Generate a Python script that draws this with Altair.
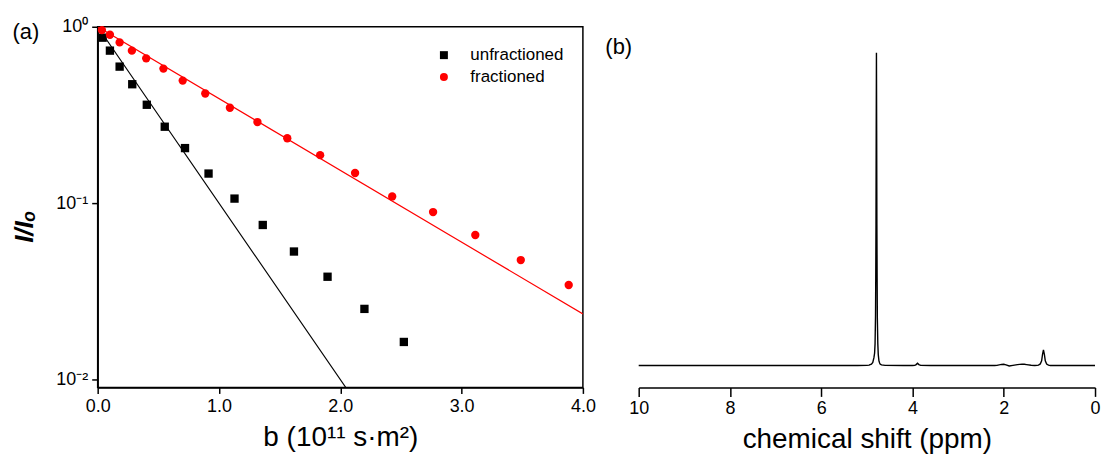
import altair as alt
import pandas as pd

# ---- panel (a): diffusion attenuation ----
series_names = ["unfractioned", "fractioned"]

b_unfrac = [0.041, 0.101, 0.181, 0.285, 0.405, 0.553, 0.720, 0.914, 1.128,
            1.361, 1.618, 1.895, 2.199, 2.524]
i_unfrac = [0.867, 0.732, 0.594, 0.472, 0.361, 0.271, 0.205, 0.147, 0.106,
            0.0751, 0.0531, 0.0382, 0.0251, 0.0163]

b_frac = [0.035, 0.101, 0.181, 0.282, 0.400, 0.542, 0.701, 0.887, 1.090,
          1.317, 1.563, 1.834, 2.122, 2.428, 2.765, 3.113, 3.488, 3.883]
i_frac = [0.957, 0.901, 0.815, 0.732, 0.662, 0.579, 0.495, 0.418, 0.347,
          0.288, 0.233, 0.187, 0.148, 0.109, 0.0889, 0.0659, 0.0475, 0.0343]

fit_unfrac_b = [0.0, 2.05]
fit_unfrac_i = [1.0, 0.0089]
fit_frac_b = [0.0, 4.0]
fit_frac_i = [1.0, 0.0235]

# ---- panel (b): 1H NMR spectrum ----
ppm = [10.0, 6.0, 5.2, 5.0, 4.95, 4.93, 4.90, 4.87, 4.845, 4.83, 4.82, 4.81,
       4.805, 4.80, 4.795, 4.79, 4.785, 4.78, 4.775, 4.77, 4.76, 4.75, 4.735,
       4.72, 4.71, 4.68, 4.6, 4.2,
       4.0, 3.95, 3.92, 3.89, 3.86, 3.82, 3.6, 2.4, 2.2, 2.15, 2.05, 2.0,
       1.95, 1.88, 1.8, 1.7, 1.6, 1.55, 1.5, 1.4, 1.32, 1.27, 1.24, 1.20,
       1.17, 1.15, 1.13, 1.11, 1.09, 1.06, 1.02, 0.98, 0.9, 0.5, 0.0]
intensity = [0.0, 0.0, 0.0, 0.05, 0.12, 0.3, 0.45, 1.0, 2.5, 4.0, 7.0, 16.0,
             28.0, 45.0, 75.0, 100.0, 75.0, 45.0, 28.0, 15.0, 7.0, 3.5, 1.5,
             0.8, 0.5, 0.2, 0.05, 0.0,
             0.0, 0.05, 0.3, 0.75, 0.3, 0.05, 0.0, 0.0, 0.0, 0.05, 0.35, 0.4,
             0.2, -0.15, 0.05, 0.3, 0.45, 0.4, 0.3, 0.1, 0.0, 0.05, 0.15, 0.5,
             1.5, 3.6, 5.0, 3.6, 1.5, 0.5, 0.12, 0.03, 0.0, 0.0, 0.0]

FONT = "Liberation Sans"

pts = pd.DataFrame({
    "b": b_unfrac + b_frac,
    "I": i_unfrac + i_frac,
    "series": [series_names[0]] * len(b_unfrac) + [series_names[1]] * len(b_frac),
})
fit_u = pd.DataFrame({"b": fit_unfrac_b, "I": fit_unfrac_i})
fit_f = pd.DataFrame({"b": fit_frac_b, "I": fit_frac_i})
spec = pd.DataFrame({"ppm": ppm, "intensity": intensity})

xa = alt.X("b:Q", scale=alt.Scale(domain=[0, 4], nice=False, zero=False),
           axis=alt.Axis(values=[0, 1, 2, 3, 4], format=".1f", tickSize=6,
                         labelPadding=4, labelFlush=False, title="b (10¹¹ s·m²)",
                         titleFontSize=28, titlePadding=8))
ya = alt.Y("I:Q", scale=alt.Scale(type="log", domain=[0.009, 1], nice=False),
           axis=alt.Axis(values=[1, 0.1, 0.01], tickSize=6, labelPadding=4, labelFlush=False,
                         labelExpr="datum.value > 0.5 ? '10⁰' : (datum.value > 0.05 ? '10⁻¹' : '10⁻²')",
                         title="I/Iₒ", titleFontSize=26, titleFontStyle="italic",
                         titleFontWeight="bold", titlePadding=18, titleY=200))

line_u = alt.Chart(fit_u).mark_line(color="black", strokeWidth=1.2, clip=True).encode(x=xa, y=ya)
line_f = alt.Chart(fit_f).mark_line(color="#ff0000", strokeWidth=1.2, clip=True).encode(x=xa, y=ya)

leg = alt.Legend(title=None, orient="none", legendX=339, legendY=20,
                 labelFontSize=17, labelFont=FONT, symbolSize=64,
                 labelOffset=18, rowPadding=4, padding=0, symbolStrokeWidth=0)
points = alt.Chart(pts).mark_point(filled=True, size=70, opacity=1).encode(
    x=xa, y=ya,
    color=alt.Color("series:N", scale=alt.Scale(domain=series_names, range=["black", "#ff0000"]), legend=leg),
    shape=alt.Shape("series:N", scale=alt.Scale(domain=series_names, range=["square", "circle"]), legend=leg),
)

lab_a = alt.Chart(pd.DataFrame({"t": ["(a)"]})).mark_text(
    fontSize=22, font=FONT, align="center", baseline="middle").encode(
    text="t:N", x=alt.value(-72), y=alt.value(5))

left = alt.layer(line_u, line_f, points, lab_a).properties(
    width=487, height=362,
    view=alt.ViewBackground(stroke="black", strokeWidth=1.5))

xb = alt.X("ppm:Q", scale=alt.Scale(domain=[0, 10], reverse=True, nice=False),
           axis=alt.Axis(values=[10, 8, 6, 4, 2, 0], tickSize=9, labelPadding=3, labelFlush=False,
                         title="chemical shift (ppm)", titleFontSize=28, titlePadding=8))
yb = alt.Y("intensity:Q", scale=alt.Scale(domain=[-7, 108.3], nice=False, zero=False), axis=None)

spectrum = alt.Chart(spec).mark_line(color="black", strokeWidth=1.4).encode(x=xb, y=yb, order="ppm:Q")
lab_b = alt.Chart(pd.DataFrame({"t": ["(b)"]})).mark_text(
    fontSize=22, font=FONT, align="center", baseline="middle").encode(
    text="t:N", x=alt.value(-20), y=alt.value(20))

right = alt.layer(spectrum, lab_b).properties(
    width=458, height=362,
    view=alt.ViewBackground(strokeOpacity=0))

chart = alt.hconcat(left, right, spacing=8).properties(
    padding={"left": 3, "top": 8, "right": 0, "bottom": 0}
).configure_axis(
    labelFont=FONT, labelFontSize=18, labelColor="black",
    titleFont=FONT, titleColor="black", titleFontWeight="normal",
    domainColor="black", domainWidth=1.5, tickColor="black", tickWidth=1.5,
    grid=False,
).configure_legend(labelColor="black")

chart.save("out.html", embed_options={"renderer": "svg", "actions": False})
